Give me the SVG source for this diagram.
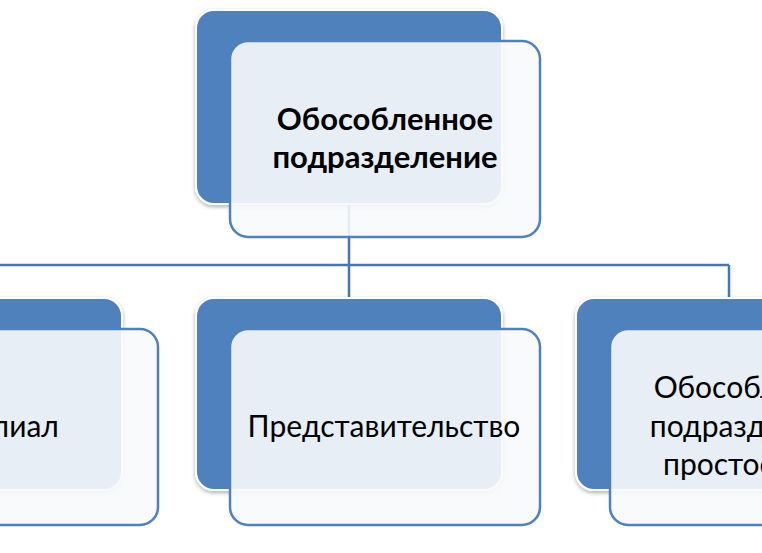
<svg xmlns="http://www.w3.org/2000/svg" width="762" height="553" viewBox="0 0 762 553">
<defs>
<filter id="sh" x="-10%" y="-10%" width="120%" height="120%"><feDropShadow dx="0" dy="2" stdDeviation="2" flood-color="#000" flood-opacity="0.3"/></filter>
</defs>
<style>
.back{fill:#4F81BD;stroke:#fff;stroke-width:2;filter:url(#sh)}
.front{fill:#F7F9FC;fill-opacity:0.9;stroke:#4F81BD;stroke-width:2.5}
.conn{stroke:#4A76AD;stroke-width:2.5;fill:none}
text{font-family:Lato,"Open Sans","Liberation Sans",sans-serif;font-size:30px;fill:#000;text-anchor:middle}
.b{font-weight:bold;font-size:31px}
</style>
<rect width="762" height="553" fill="#fff"/>
<g id="connectors">
<path class="conn" d="M349 205V265M0 265H729M349 265V298M729 265V298"/>
</g>
<g id="top">
<rect class="back" x="196" y="10" width="306" height="194" rx="18"/>
<rect class="front" x="230" y="41" width="310" height="196" rx="18"/>
<text class="b" x="385" y="130">Обособленное</text>
<text class="b" x="385" y="168">подразделение</text>
</g>
<g id="filial">
<rect class="back" x="-110" y="298" width="232" height="192" rx="18"/>
<rect class="front" x="-76" y="329" width="234" height="196" rx="18"/>
<text x="5" y="437">Филиал</text>
</g>
<g id="predst">
<rect class="back" x="196" y="298" width="306" height="192" rx="18"/>
<rect class="front" x="230" y="329" width="310" height="196" rx="18"/>
<text x="384" y="437">Представительство</text>
</g>
<g id="prostoe">
<rect class="back" x="576" y="298" width="306" height="192" rx="18"/>
<rect class="front" x="610" y="329" width="310" height="196" rx="18"/>
<text x="757" y="398">Обособленное</text>
<text x="757" y="437">подразделение</text>
<text x="663" y="475" style="text-anchor:start">простое</text>
</g>
</svg>
